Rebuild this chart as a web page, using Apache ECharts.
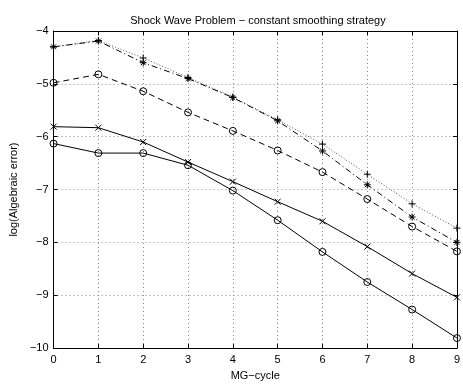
<!DOCTYPE html>
<html><head><meta charset="utf-8">
<script src="https://cdn.jsdelivr.net/npm/echarts@6/dist/echarts.min.js"></script>
<style>html,body{margin:0;padding:0;background:#fff}#c{width:463px;height:386px}</style>
</head><body><div id="c"></div>
<script>
const cycles = [0,1,2,3,4,5,6,7,8,9];
const plusDotted = [-4.30,-4.18,-4.51,-4.88,-5.25,-5.68,-6.14,-6.71,-7.27,-7.73];
const starDashDot = [-4.30,-4.19,-4.60,-4.90,-5.26,-5.70,-6.27,-6.91,-7.52,-8.00];
const circleDashed = [-4.98,-4.82,-5.14,-5.54,-5.89,-6.26,-6.67,-7.18,-7.70,-8.17];
const crossSolid = [-5.81,-5.83,-6.10,-6.48,-6.85,-7.23,-7.60,-8.08,-8.59,-9.04];
const circleSolid = [-6.13,-6.31,-6.31,-6.54,-7.02,-7.58,-8.18,-8.75,-9.27,-9.81];

const titleText = 'Shock Wave Problem \u2212 constant smoothing strategy';
const xName = 'MG\u2212cycle';
const yName = 'log(Algebraic error)';

const PLUS = 'path://M5 0 L5 10 M0 5 L10 5';
const CROSS = 'path://M0 0 L10 10 M10 0 L0 10';
const STAR = 'path://M5 0 L5 10 M0 5 L10 5 M1.5 1.5 L8.5 8.5 M8.5 1.5 L1.5 8.5';
const CIRCLE = 'path://M10 5 A5 5 0 1 1 0 5 A5 5 0 1 1 10 5 Z';

function pairs(arr){ return cycles.map((c,i)=>[c,arr[i]]); }
const font = 'Liberation Sans, Arial, Helvetica, sans-serif';
const minus = v => String(v).replace('-', '\u2212');

function mk(name, data, lineType, symbol, size, lineColor){
  return {
    name, type:'line', data: pairs(data), symbol, symbolSize:size,
    showSymbol:true, clip:false, animation:false,
    lineStyle:{color:lineColor||'#000', width:1, type:lineType},
    itemStyle:{color:'none', borderColor:'#000', borderWidth:1},
    emphasis:{disabled:true}, z:5
  };
}

const chart = echarts.init(document.getElementById('c'), null, {renderer:'canvas'});
chart.setOption({
  animation:false,
  backgroundColor:'#fff',
  title:{text:titleText, left:253, top:10, textAlign:'center',
    textStyle:{fontFamily:font, fontSize:11, fontWeight:'normal', color:'#000'}},
  grid:{left:44, top:31, right:2, bottom:27},
  xAxis:[
    {type:'value', min:0, max:9, interval:1, position:'bottom',
     name:xName, nameLocation:'middle', nameGap:20,
     nameTextStyle:{fontFamily:font, fontSize:11, color:'#000'},
     axisLine:{onZero:false, lineStyle:{color:'#000', width:1}},
     axisTick:{inside:true, length:4, lineStyle:{color:'#000'}},
     axisLabel:{fontFamily:font, fontSize:11, color:'#000', margin:6, formatter:minus},
     splitLine:{show:true, lineStyle:{color:'#888', type:[1,3], width:1}}},
    {type:'value', min:0, max:9, interval:1, position:'top',
     axisLine:{onZero:false, lineStyle:{color:'#000', width:1}},
     axisTick:{inside:true, length:4, lineStyle:{color:'#000'}},
     axisLabel:{show:false}, splitLine:{show:false}}
  ],
  yAxis:[
    {type:'value', min:-10, max:-4, interval:1, position:'left',
     name:yName, nameLocation:'middle', nameGap:30, nameRotate:90,
     nameTextStyle:{fontFamily:font, fontSize:11, color:'#000'},
     axisLine:{onZero:false, lineStyle:{color:'#000', width:1}},
     axisTick:{inside:true, length:4, lineStyle:{color:'#000'}},
     axisLabel:{fontFamily:font, fontSize:11, color:'#000', margin:5, formatter:minus},
     splitLine:{show:true, lineStyle:{color:'#888', type:[1,3], width:1}}},
    {type:'value', min:-10, max:-4, interval:1, position:'right',
     axisLine:{onZero:false, lineStyle:{color:'#000', width:1}},
     axisTick:{inside:true, length:4, lineStyle:{color:'#000'}},
     axisLabel:{show:false}, splitLine:{show:false}}
  ],
  series:[
    mk('plus', plusDotted, [1,2], PLUS, 7, '#555'),
    mk('star', starDashDot, [6,3,1,3], STAR, 7),
    mk('circDash', circleDashed, [6,4], CIRCLE, 7),
    mk('cross', crossSolid, 'solid', CROSS, 6),
    mk('circ', circleSolid, 'solid', CIRCLE, 7)
  ]
});
</script></body></html>
